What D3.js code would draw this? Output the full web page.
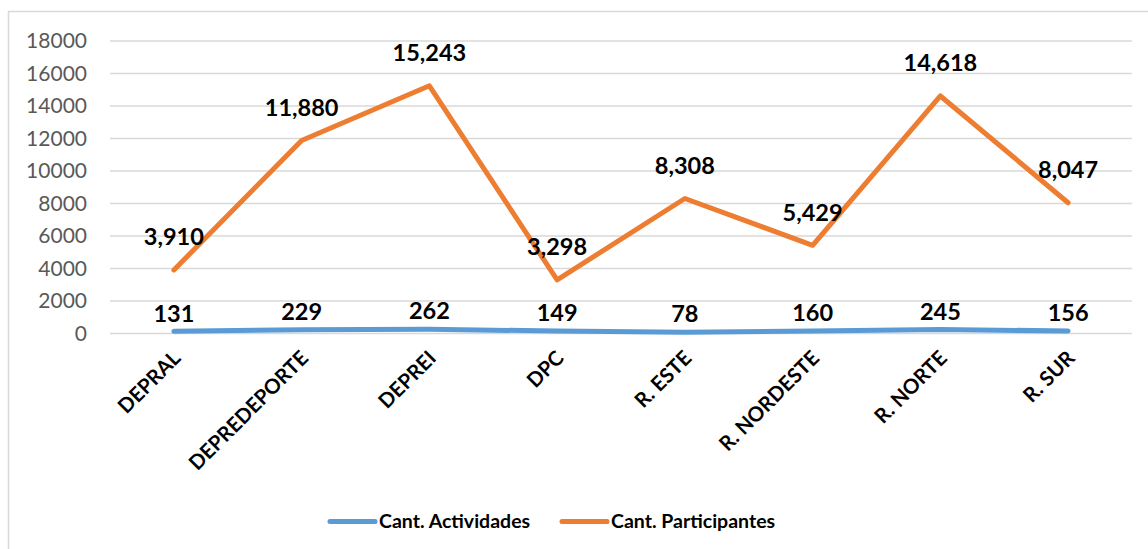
<!DOCTYPE html>
<html><head><meta charset="utf-8">
<script src="https://cdn.jsdelivr.net/npm/d3@7"></script>
<style>body{margin:0;background:#fff;} svg{display:block;}</style>
</head><body>
<svg id="c" width="1148" height="549"></svg>
<script>
const categories = ["DEPRAL","DEPREDEPORTE","DEPREI","DPC","R. ESTE","R. NORDESTE","R. NORTE","R. SUR"];
const actividades = [131,229,262,149,78,160,245,156];
const participantes = [3910,11880,15243,3298,8308,5429,14618,8047];
const yTicks = [0,2000,4000,6000,8000,10000,12000,14000,16000,18000];
const seriesNames = ["Cant. Actividades","Cant. Participantes"];
const colors = ["#5b9bd5","#ed7d31"];

(function(){
const svg = d3.select("#c");
const font = "Lato, 'Open Sans', sans-serif";
svg.append("rect").attr("x",8.5).attr("y",11.5).attr("width",1200).attr("height",600)
  .attr("fill","none").attr("stroke","#d9d9d9").attr("stroke-width",1.5);

const pl=110, pr=1132, pt=41, pb=333.5;
const x = d3.scaleBand().domain(categories).range([pl,pr]);
const y = d3.scaleLinear().domain([0,18000]).range([pb,pt]);
const cx = d => x(d)+x.bandwidth()/2;

svg.append("g").selectAll("line").data(yTicks).join("line")
  .attr("x1",pl).attr("x2",pr).attr("y1",d=>y(d)).attr("y2",d=>y(d))
  .attr("stroke","#d9d9d9").attr("stroke-width",1.5);

const yAxis = svg.append("g").attr("transform",`translate(${pl},0)`)
  .call(d3.axisLeft(y).tickValues(yTicks).tickFormat(d3.format("d")).tickSize(0).tickPadding(23));
yAxis.select(".domain").remove();
yAxis.selectAll("text").attr("font-family",font).attr("font-size",21).attr("fill","#595959");

const xAxis = svg.append("g").attr("transform",`translate(0,${pb})`)
  .call(d3.axisBottom(x).tickSize(0).tickFormat(d=>d));
xAxis.select(".domain").remove();
xAxis.selectAll("text")
  .attr("font-family",font).attr("font-size",20.5).attr("font-weight","bold").attr("fill","#000")
  .attr("text-anchor","end").attr("dy",0).attr("y",0)
  .attr("transform","translate(8,26) rotate(-45)");

const line = d3.line().x((d,i)=>cx(categories[i])).y(d=>y(d));
const data = [actividades, participantes];
const offsets = [18, 33];
data.forEach((vals,k)=>{
  svg.append("path").datum(vals).attr("d",line).attr("fill","none")
    .attr("stroke",colors[k]).attr("stroke-width",5).attr("stroke-linecap","round").attr("stroke-linejoin","round");
});
data.forEach((vals,k)=>{
  svg.append("g").selectAll("text").data(vals).join("text")
    .attr("x",(d,i)=>cx(categories[i])).attr("y",d=>y(d)-offsets[k])
    .attr("dy","0.35em").attr("text-anchor","middle")
    .attr("font-family",font).attr("font-size",23.5).attr("font-weight","bold").attr("fill","#000")
    .text(d=>d3.format(",")(d));
});

const legX = [330, 562];
seriesNames.forEach((n,k)=>{
  const g = svg.append("g").attr("transform",`translate(${legX[k]},521.5)`);
  g.append("line").attr("x1",0).attr("x2",45).attr("stroke",colors[k]).attr("stroke-width",5).attr("stroke-linecap","round");
  g.append("text").attr("x",49).attr("dy","0.35em").attr("font-family",font).attr("font-size",19.5)
    .attr("font-weight","bold").attr("fill","#000").text(n);
});
})();
</script>
</body></html>
